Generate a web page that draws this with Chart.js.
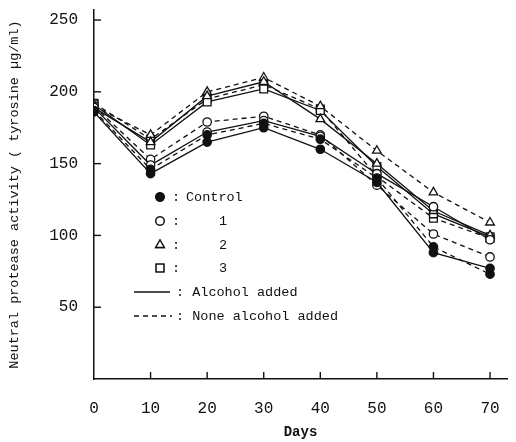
<!DOCTYPE html>
<html>
<head>
<meta charset="utf-8">
<script src="https://cdn.jsdelivr.net/npm/chart.js@4"></script>
<style>
  html, body { margin: 0; padding: 0; background: #fff; }
  #wrap { width: 516px; height: 442px; }
</style>
</head>
<body>
<div id="wrap"><canvas id="chart" width="516" height="442"></canvas></div>
<script>
// DATA
var days = [0, 10, 20, 30, 40, 50, 60, 70];
var xTicks = [0, 10, 20, 30, 40, 50, 60, 70];
var yTicks = [50, 100, 150, 200, 250];

// alcohol added (solid) / none alcohol added (dashed)
var controlAlcohol = [186, 143, 165, 175, 160, 137, 88, 77];
var controlNone    = [187, 146, 170, 178, 167, 140, 92, 73];
var one_Alcohol    = [189, 149, 172, 180, 169, 143, 120, 97];
var one_None       = [190, 153, 179, 183, 170, 135, 101, 85];
var two_Alcohol    = [189, 165, 197, 207, 181, 150, 117, 100];
var two_None       = [190, 170, 200, 210, 190, 159, 130, 109];
var three_Alcohol  = [191, 163, 193, 202, 187, 148, 115, 99];
var three_None     = [192, 167, 195, 205, 188, 141, 112, 98];

var MONO = '"Liberation Mono", "DejaVu Sans Mono", monospace';
var INK = '#111';

function pts(vals) {
  return days.map(function (d, i) { return { x: d, y: vals[i] }; });
}

function makeSet(label, vals, style, filled, dashed) {
  return {
    label: label,
    data: pts(vals),
    borderColor: INK,
    borderWidth: 1.3,
    borderDash: dashed ? [5, 4] : [],
    pointStyle: style,
    pointRadius: style === 'triangle' ? 5 : (style === 'rect' ? 5.5 : 4.2),
    pointBackgroundColor: filled ? INK : '#fff',
    pointBorderColor: INK,
    pointBorderWidth: 1.3,
    tension: 0,
    fill: false
  };
}

// draws the little inward tick marks and the legend text block
var extras = {
  id: 'extras',
  afterDraw: function (chart) {
    var ctx = chart.ctx;
    var xs = chart.scales.x, ys = chart.scales.y;
    var area = chart.chartArea;
    ctx.save();
    ctx.strokeStyle = INK;
    ctx.lineWidth = 1.4;
    ctx.setLineDash([]);
    yTicks.forEach(function (v) {
      var py = ys.getPixelForValue(v);
      ctx.beginPath(); ctx.moveTo(area.left, py); ctx.lineTo(area.left + 7, py); ctx.stroke();
    });
    xTicks.forEach(function (v) {
      if (v === 0) return;
      var px = xs.getPixelForValue(v);
      ctx.beginPath(); ctx.moveTo(px, area.bottom); ctx.lineTo(px, area.bottom - 7); ctx.stroke();
    });

    // legend
    var mx = 160, rows = [197, 221, 245, 268];
    var styles = ['circle', 'circle', 'triangle', 'rect'];
    var texts = ['Control', '1', '2', '3'];
    ctx.font = '13.5px ' + MONO;
    ctx.fillStyle = INK;
    ctx.textBaseline = 'middle';
    for (var i = 0; i < 4; i++) {
      ctx.fillStyle = i === 0 ? INK : '#fff';
      ctx.lineWidth = 1.3;
      var r = styles[i] === 'triangle' ? 5 : (styles[i] === 'rect' ? 5.5 : 4.2);
      Chart.helpers.drawPoint(ctx, { pointStyle: styles[i], radius: r, borderWidth: 1.3 }, mx, rows[i]);
      ctx.fill();
      ctx.stroke();
      ctx.fillStyle = INK;
      ctx.textAlign = 'left';
      ctx.fillText(':', 172, rows[i]);
      if (i === 0) ctx.fillText(texts[i], 186, rows[i]);
      else { ctx.textAlign = 'center'; ctx.fillText(texts[i], 223, rows[i]); }
    }
    ctx.textAlign = 'left';
    ctx.lineWidth = 1.3;
    ctx.beginPath(); ctx.moveTo(134, 292); ctx.lineTo(170, 292); ctx.stroke();
    ctx.fillText(': Alcohol added', 176, 292);
    ctx.setLineDash([5, 4]);
    ctx.beginPath(); ctx.moveTo(134, 316); ctx.lineTo(172, 316); ctx.stroke();
    ctx.setLineDash([]);
    ctx.fillText(': None alcohol added', 176, 316);
    ctx.restore();
  }
};

var ctx = document.getElementById('chart');

new Chart(ctx, {
  type: 'line',
  data: {
    datasets: [
      makeSet('Control, alcohol added', controlAlcohol, 'circle', true, false),
      makeSet('Control, none alcohol added', controlNone, 'circle', true, true),
      makeSet('1, alcohol added', one_Alcohol, 'circle', false, false),
      makeSet('1, none alcohol added', one_None, 'circle', false, true),
      makeSet('2, alcohol added', two_Alcohol, 'triangle', false, false),
      makeSet('2, none alcohol added', two_None, 'triangle', false, true),
      makeSet('3, alcohol added', three_Alcohol, 'rect', false, false),
      makeSet('3, none alcohol added', three_None, 'rect', false, true)
    ]
  },
  options: {
    responsive: false,
    animation: false,
    layout: { padding: { top: 10, right: 9, left: 0, bottom: 0 } },
    plugins: {
      legend: { display: false },
      tooltip: { enabled: false }
    },
    scales: {
      x: {
        type: 'linear',
        min: 0,
        max: 73,
        afterBuildTicks: function (scale) {
          scale.ticks = xTicks.map(function (v) { return { value: v }; });
        },
        afterFit: function (scale) {
          scale.height = 63;
          scale.paddingLeft = 0;
          scale.paddingRight = 0;
        },
        grid: { display: false, drawTicks: false },
        border: { display: true, color: INK, width: 1.5 },
        ticks: {
          color: INK,
          padding: 20,
          font: { family: MONO, size: 16 },
          maxRotation: 0
        },
        title: {
          display: true,
          text: 'Days',
          color: INK,
          font: { family: MONO, size: 14, weight: 'bold' },
          padding: { top: 0, bottom: 1 }
        }
      },
      y: {
        min: 0,
        max: 257,
        afterBuildTicks: function (scale) {
          scale.ticks = yTicks.map(function (v) { return { value: v }; });
        },
        afterFit: function (scale) {
          scale.width = 94;
          scale.paddingTop = 0;
          scale.paddingBottom = 0;
        },
        grid: { display: false, drawTicks: false },
        border: { display: true, color: INK, width: 1.5 },
        ticks: {
          color: INK,
          padding: 16,
          font: { family: MONO, size: 16 }
        },
        title: {
          display: true,
          text: 'Neutral protease activity ( tyrosine \u00b5g/ml)',
          color: INK,
          font: { family: MONO, size: 13.5 },
          padding: { top: 6, bottom: 0 }
        }
      }
    }
  },
  plugins: [extras]
});
</script>
</body>
</html>
